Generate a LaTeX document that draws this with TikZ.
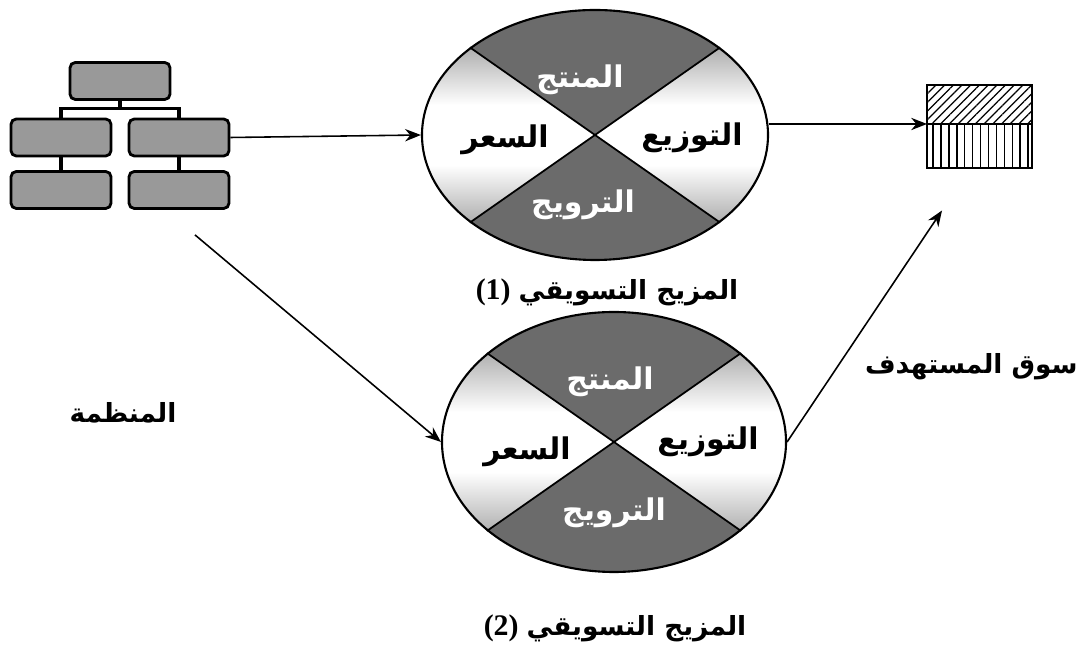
\documentclass[tikz,border=0pt]{standalone}
\usepackage{fontspec}
\newfontfamily\arabicfont[Script=Arabic]{DejaVu Sans}
\newfontfamily\numfont{Liberation Serif}
\TeXXeTstate=1
\usetikzlibrary{shapes.geometric, arrows.meta, positioning, patterns.meta}
\newcommand{\artxt}[1]{{\arabicfont\bfseries\beginR #1\endR}}
\tikzset{
    orgbox/.style={draw, line width=1.6pt, rounded corners=3pt, fill=black!40,
        minimum width=2cm, minimum height=0.74cm, inner sep=0pt},
    orglink/.style={line width=2pt},
    mixdisk/.style={ellipse, draw, line width=1.2pt, inner sep=0pt,
        minimum width=6.92cm, minimum height=5cm},
    grain/.style={fill=black!58},
    cross/.style={line width=1pt},
    flow/.style={-{Stealth[length=9pt, width=7pt]}, line width=0.9pt},
    mixlabel/.style={font=\fontsize{17}{20}\selectfont},
    caption/.style={font=\fontsize{15}{18}\selectfont},
    mkttop/.style={draw, line width=1.2pt, minimum width=2.1cm, minimum height=0.78cm,
        inner sep=0pt, outer sep=0pt, pattern={Lines[angle=45, distance=3.5pt, line width=0.7pt]}},
    mktbot/.style={draw, line width=1.2pt, minimum width=2.1cm, minimum height=0.88cm,
        inner sep=0pt, outer sep=0pt, pattern={Lines[angle=90, distance=4.5pt, line width=0.8pt]}}
}
\begin{document}
\begin{tikzpicture}
    \useasboundingbox (0,0) rectangle (21.56,12.94);

    % Organisation chart
    \node[orgbox] (top) at (2.40,11.32) {};
    \node[orgbox] (midL) at (1.22,10.19) {};
    \node[orgbox] (midR) at (3.58,10.19) {};
    \node[orgbox] (botL) at (1.22,9.14) {};
    \node[orgbox] (botR) at (3.58,9.14) {};
    \draw[orglink] (top.south) -- ++(0,-0.15) coordinate (bus);
    \draw[orglink] (bus) -| (midL.north);
    \draw[orglink] (bus) -| (midR.north);
    \draw[orglink] (midL.south) -- (botL.north);
    \draw[orglink] (midR.south) -- (botR.north);
    \node[caption] (org) at (2.46,4.68) {\artxt{المنظمة}};

    % Marketing mix (1)
    \begin{scope}[shift={(11.90,10.24)}]
        \begin{scope}
            \clip (0,0) ellipse [x radius=3.46cm, y radius=2.5cm];
            \shade[top color=black!55, bottom color=white] (-3.5,0.6) rectangle (3.5,2.6);
            \shade[top color=white, bottom color=black!55] (-3.5,-2.6) rectangle (3.5,-0.6);
            \fill[grain] (0,0) -- (35:6) -- (90:6) -- (145:6) -- cycle; % product
            \fill[grain] (0,0) -- (-35:6) -- (-90:6) -- (-145:6) -- cycle; % promotion
        \end{scope}
        \node[mixdisk] (mixA) at (0,0) {};
        \draw[cross] (mixA.145) -- (mixA.-35);
        \draw[cross] (mixA.35) -- (mixA.-145);
        \node[mixlabel, text=white] at (-0.3,1.1) {\artxt{المنتج}};
        \node[mixlabel] at (-1.80,-0.10) {\artxt{السعر}};
        \node[mixlabel] at (1.94,-0.06) {\artxt{التوزيع}};
        \node[mixlabel, text=white] at (-0.24,-1.40) {\artxt{الترويج}};
    \end{scope}
    \node[caption] (capA) at (12.14,7.10) {{\numfont\bfseries\fontsize{17}{20}\selectfont (1)}~\artxt{المزيج التسويقي}};

    % Marketing mix (2)
    \begin{scope}[shift={(12.28,4.10)}]
        \begin{scope}
            \clip (0,0) ellipse [x radius=3.44cm, y radius=2.6cm];
            \shade[top color=black!55, bottom color=white] (-3.5,0.6) rectangle (3.5,2.7);
            \shade[top color=white, bottom color=black!55] (-3.5,-2.7) rectangle (3.5,-0.6);
            \fill[grain] (0,0) -- (35:6) -- (90:6) -- (145:6) -- cycle; % product
            \fill[grain] (0,0) -- (-35:6) -- (-90:6) -- (-145:6) -- cycle; % promotion
        \end{scope}
        \node[mixdisk, minimum width=6.88cm, minimum height=5.2cm] (mixB) at (0,0) {};
        \draw[cross] (mixB.145) -- (mixB.-35);
        \draw[cross] (mixB.35) -- (mixB.-145);
        \node[mixlabel, text=white] at (-0.08,1.2) {\artxt{المنتج}};
        \node[mixlabel] at (-1.74,-0.2) {\artxt{السعر}};
        \node[mixlabel] at (1.88,0) {\artxt{التوزيع}};
        \node[mixlabel, text=white] at (0,-1.42) {\artxt{الترويج}};
    \end{scope}
    \node[caption] (capB) at (12.30,0.38) {{\numfont\bfseries\fontsize{17}{20}\selectfont (2)}~\artxt{المزيج التسويقي}};

    % Target market
    \node[mkttop] (mktTop) at (19.59,10.85) {};
    \node[mktbot, below=0pt of mktTop] (mktBot) {};
    \node[caption, anchor=east, inner sep=0pt] (mkt) at (21.56,5.60) {\artxt{سوق المستهدف}};

    % Arrows
    \coordinate (orgout) at ([xshift=0.32cm, yshift=-0.5cm]botR.south);
    \coordinate (mktin) at ([xshift=0.3cm, yshift=-0.85cm]mktBot.south west);
    \draw[flow] (midR.east) -- (mixA.west);
    \draw[flow] (orgout) -- (mixB.west);
    \draw[flow] (mixA.east |- mktTop.south west) -- (mktTop.south west);
    \draw[flow] (mixB.east) -- (mktin);
\end{tikzpicture}
\end{document}
